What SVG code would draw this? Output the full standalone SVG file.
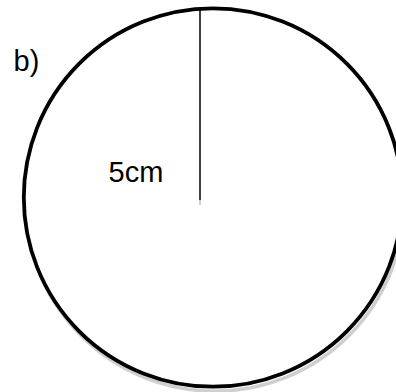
<svg xmlns="http://www.w3.org/2000/svg" width="396" height="392" viewBox="0 0 396 392">
<style>
.lbl{font-family:"Liberation Sans",Arial,sans-serif;font-size:29px;fill:#000}
</style>
<rect width="396" height="392" fill="#fff"/>
<g id="circle">
<circle cx="215" cy="202" r="189.2" fill="none" stroke="#cfcfcf" stroke-width="3.5"/>
<circle cx="213" cy="197.5" r="189.2" fill="#fff" stroke="#000" stroke-width="3.8"/>
</g>
<g id="connectors">
<line x1="200" y1="9" x2="200" y2="200" stroke="#000" stroke-width="1.5"/>
<line x1="200" y1="200" x2="200" y2="205" stroke="#bbb" stroke-width="1.5"/>
</g>
<g id="label-b"><text class="lbl" x="13.5" y="70.5">b)</text></g>
<g id="label-radius"><text class="lbl" x="108.5" y="181.7">5cm</text></g>
</svg>
